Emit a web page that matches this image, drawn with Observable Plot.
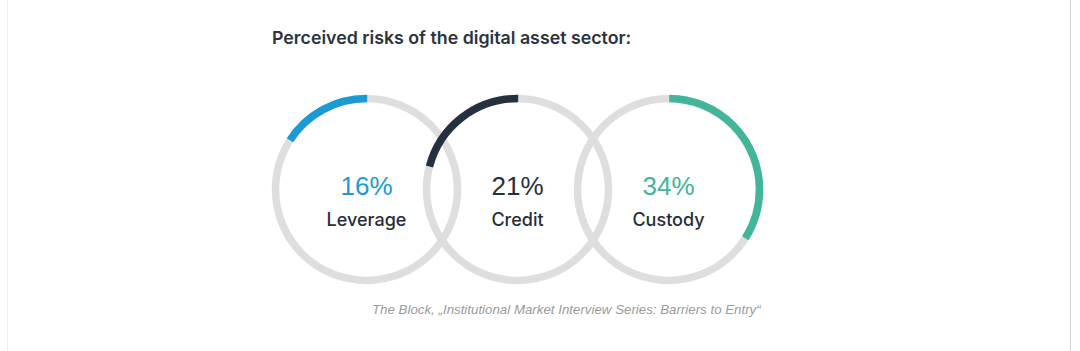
<!DOCTYPE html>
<html>
<head>
<meta charset="utf-8">
<script src="https://cdn.jsdelivr.net/npm/d3@7"></script>
<script src="https://cdn.jsdelivr.net/npm/@observablehq/plot@0.6"></script>
<style>
  html, body { margin: 0; padding: 0; background: #ffffff; }
  #wrap { position: relative; width: 1080px; height: 351px; overflow: hidden; }
  .vline { position: absolute; top: 0; bottom: 0; width: 1px; }
  #title { position: absolute; left: 272px; top: 27px; font-family: Inter, Roboto, sans-serif; font-weight: 600; font-size: 17.8px; color: #2c3340; white-space: nowrap; }
  #chart { position: absolute; left: 0; top: 80px; }
  #caption { position: absolute; left: 372px; top: 302px; font-family: "Liberation Sans", Arial, sans-serif; font-style: italic; font-size: 13.3px; color: #9b9b9b; white-space: nowrap; }
</style>
</head>
<body>
<div id="wrap">
  <div class="vline" style="left:7px;background:#ececec"></div>
  <div class="vline" style="left:1070px;background:#d4d4d4"></div>
  <div id="title">Perceived risks of the digital asset sector:</div>
  <div id="chart"></div>
  <div id="caption">The Block, „Institutional Market Interview Series: Barriers to Entry“</div>
</div>
<script>
// ---- data ----
const categories = ["Leverage", "Credit", "Custody"];
const values = [16, 21, 34];              // percent
const colors = ["#1b9ad6", "#25303e", "#42b69b"];
const directions = ["ccw", "ccw", "cw"];   // arc direction from 12 o'clock

const data = categories.map((name, i) => ({
  name, value: values[i], color: colors[i], dir: directions[i], label: values[i] + "%"
}));

const R = 91;
const C = 2 * Math.PI * R;
const SW = 7.5;

const arcMarks = data.map(d => {
  const L = d.value / 100 * C;
  const start = d.dir === "cw" ? 0.75 * C : 0.75 * C - L;
  return Plot.dot([d], {
    x: "name", r: R, fill: "none", stroke: d.color, strokeWidth: SW,
    strokeDasharray: `${L} ${C - L}`, strokeDashoffset: -start
  });
});

const chart = Plot.plot({
  width: 1080,
  height: 218,
  margin: 0,
  x: { type: "point", domain: categories, range: [366, 668], padding: 0, axis: null },
  style: { fontFamily: "'Liberation Sans', Arial, sans-serif", background: "transparent" },
  marks: [
    Plot.dot(data, { x: "name", r: R, fill: "none", stroke: "#dedede", strokeWidth: SW }),
    ...arcMarks,
    Plot.text(data, {
      x: "name", text: "label", fill: "color", fontSize: 26, dy: -3,
      lineAnchor: "middle", fontWeight: 400
    }),
    Plot.text(data, {
      x: "name", text: "name", fill: "#262e3b", fontSize: 18, dy: 31,
      lineAnchor: "middle", fontWeight: 500, fontFamily: "Inter, Roboto, sans-serif"
    })
  ]
});
document.getElementById("chart").appendChild(chart);
</script>
</body>
</html>
